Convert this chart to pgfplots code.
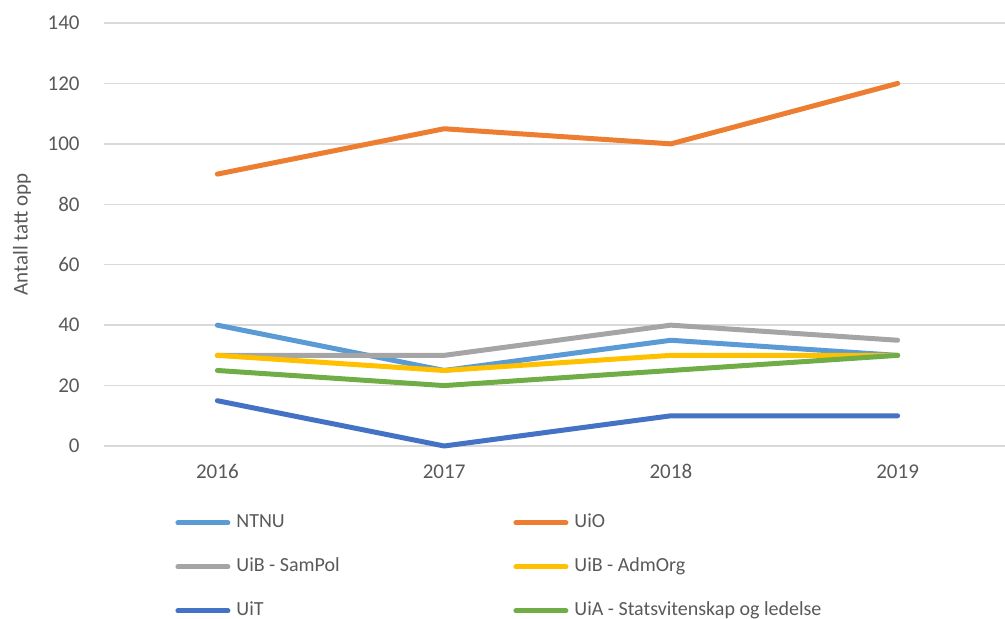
\documentclass[border=0pt]{standalone}
\usepackage{pgfplots}
\pgfplotsset{compat=1.18}
\usepackage{fontspec}
\setmainfont{Carlito}
\definecolor{cntnu}{HTML}{5B9BD5}
\definecolor{cuio}{HTML}{ED7D31}
\definecolor{csampol}{HTML}{A5A5A5}
\definecolor{cadm}{HTML}{FFC000}
\definecolor{cuit}{HTML}{4472C4}
\definecolor{cuia}{HTML}{70AD47}
\definecolor{gridgray}{HTML}{D9D9D9}
\definecolor{txtgray}{HTML}{595959}
\begin{document}
\begin{tikzpicture}
\useasboundingbox (0,0) rectangle (502.5pt,309pt);
\begin{axis}[
  at={(52pt,86pt)}, anchor=south west,
  scale only axis, width=453.5pt, height=211.5pt,
  xmin=-0.5, xmax=3.5, ymin=0, ymax=140,
  xtick={0,1,2,3}, xticklabels={2016,2017,2018,2019},
  ytick={0,20,...,140},
  ymajorgrids, grid style={draw=gridgray, line width=0.75pt},
  axis line style={draw=none},
  major tick length=0pt,
  tick label style={font=\fontsize{10.5}{12}\selectfont, text=txtgray},
  /pgf/number format/assume math mode=true,
  yticklabel style={anchor=east, inner sep=0pt, xshift=-12pt},
  xticklabel style={anchor=north, inner sep=0pt, yshift=-9pt},
  ylabel={Antall tatt opp},
  ylabel style={at={(axis description cs:-0.0904,0.5)}, anchor=center, font=\fontsize{10.5}{12}\selectfont, text=txtgray},
  clip=false,
  legend columns=2,
  legend style={at={(axis description cs:0.0783,-0.157)}, anchor=north west, draw=none, fill=none, inner sep=0pt,
    font=\fontsize{10}{12}\selectfont, text=txtgray, row sep=12pt,
    nodes={inner sep=0pt, text height=7.5pt, text depth=2.5pt},
    /tikz/every odd column/.append style={column sep=3pt}},
  legend cell align=left,
  legend image code/.code={\draw[#1, line width=2.5pt] (0pt,0pt) -- (25pt,0pt);},
  every axis plot/.append style={line width=2.5pt, line cap=round, line join=round},
]
\addplot[color=cntnu] coordinates {(0,40) (1,25) (2,35) (3,30)};
\addlegendentry{\makebox[138.5pt][l]{NTNU}}
\addplot[color=cuio] coordinates {(0,90) (1,105) (2,100) (3,120)};
\addlegendentry{UiO}
\addplot[color=csampol] coordinates {(0,30) (1,30) (2,40) (3,35)};
\addlegendentry{\makebox[138.5pt][l]{UiB - SamPol}}
\addplot[color=cadm] coordinates {(0,30) (1,25) (2,30) (3,30)};
\addlegendentry{UiB - AdmOrg}
\addplot[color=cuit] coordinates {(0,15) (1,0) (2,10) (3,10)};
\addlegendentry{\makebox[138.5pt][l]{UiT}}
\addplot[color=cuia] coordinates {(0,25) (1,20) (2,25) (3,30)};
\addlegendentry{UiA - Statsvitenskap og ledelse}
\end{axis}
\end{tikzpicture}
\end{document}
